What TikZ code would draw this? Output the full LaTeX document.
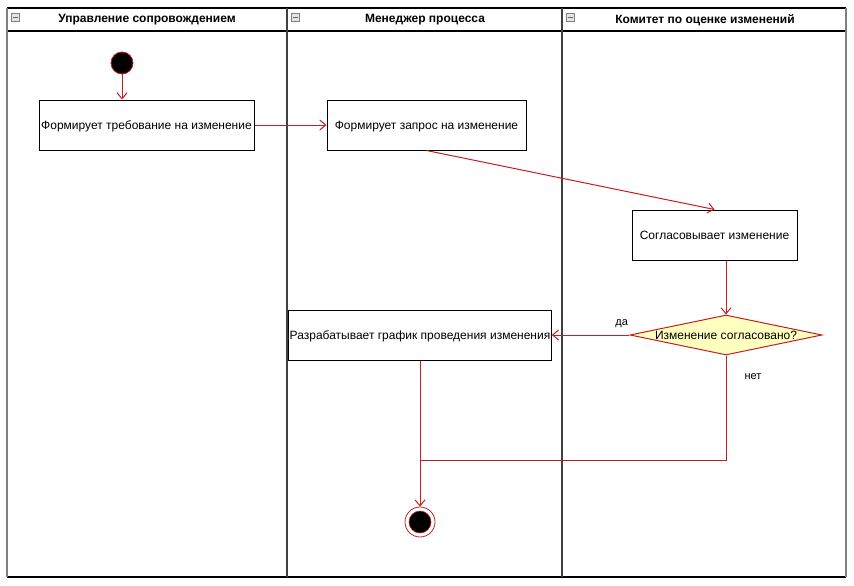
\documentclass[tikz,border=0pt]{standalone}
\usepackage{fontspec}
\setmainfont{Liberation Sans}
\usetikzlibrary{shapes.geometric,arrows.meta}

\definecolor{flowred}{HTML}{C41E1E}
\definecolor{decfill}{HTML}{FFFFC0}
\definecolor{lanegray}{HTML}{808080}

\tikzset{
  act/.style={draw, line width=1pt, minimum height=50, inner sep=1pt,
    text depth=0pt, font=\fontsize{12}{14}\selectfont},
  dec/.style={diamond, draw=flowred, fill=decfill, line width=1pt,
    aspect=4.8, inner sep=0pt, minimum width=192, minimum height=40,
    font=\fontsize{12}{14}\selectfont},
  flow/.style={draw=flowred, line width=1pt,
    -{Straight Barb[length=6pt,width=10pt,line width=1pt]}},
  lanehead/.style={font=\fontsize{12}{14}\selectfont\bfseries},
  edgelab/.style={font=\fontsize{11}{13}\selectfont},
  minbox/.style={draw=gray, fill=gray!20, line width=0.6pt,
    minimum size=8, inner sep=0pt}
}

\begin{document}
\begin{tikzpicture}[x=1pt, y=-1pt]
    \useasboundingbox (0,0) rectangle (854,586);
    % lanes
    \draw[line width=1.5pt] (7,8) -- (846,8);
    \draw[line width=1.5pt] (7,31) -- (846,31);
    \draw[line width=1.5pt] (7,577) -- (846,577);
    \draw[lanegray, line width=2pt] (7,8) -- (7,577);
    \draw[lanegray, line width=2pt] (846,8) -- (846,577);
    \draw[black!75, line width=2.5pt] (287,8) -- (287,577);
    \draw[black!75, line width=2.5pt] (562,8) -- (562,577);
    \node[lanehead] (h1) at (147,20) {Управление сопровождением};
    \node[lanehead] (h2) at (425,20) {Менеджер процесса};
    \node[lanehead] (h3) at (705,20) {Комитет по оценке изменений};
    \foreach \x in {15,295,570} {
        \node[minbox] at (\x,17) {};
        \draw[gray!80!black, line width=0.8pt] (\x-2.5,17) -- (\x+2.5,17);
    }

    % nodes
    \node[circle, fill=black, draw=flowred, line width=0.8pt, minimum size=22, inner sep=0pt] (start) at (122,63) {};
    \node[act, minimum width=215] (req) at (146.5,125) {Формирует требование на изменение};
    \node[act, minimum width=199] (query) at (426.5,125) {Формирует запрос на изменение};
    \node[act, minimum width=165] (agree) at (714.5,235) {Согласовывает изменение};
    \node[dec] (ok) at (726,335) {Изменение согласовано?};
    \node[act, minimum width=262] (plan) at (420,335) {Разрабатывает график проведения изменения};
    \node[circle, draw=flowred, line width=0.8pt, minimum size=30, inner sep=0pt] (stop) at (420,522) {};
    \node[circle, fill=black, draw=flowred, line width=0.6pt, minimum size=22, inner sep=0pt] at (stop) {};
    \coordinate (join) at (420,460);

    % connectors
    \draw[flow] (start) -- (start |- req.north);
    \draw[flow] (req) -- (query);
    \draw[flow] (query.south) -- (agree.north);
    \draw[flow] (ok.north |- agree.south) -- (ok.north);
    \draw[flow] (ok) -- (plan) node[edgelab, pos=0.1, above=3pt] (yes) {да};
    \draw[flowred, line width=1pt] (ok.south) |- (join);
    \node[edgelab] (no) at (753,377) {нет};
    \draw[flow] (plan) -- (stop);
\end{tikzpicture}
\end{document}
